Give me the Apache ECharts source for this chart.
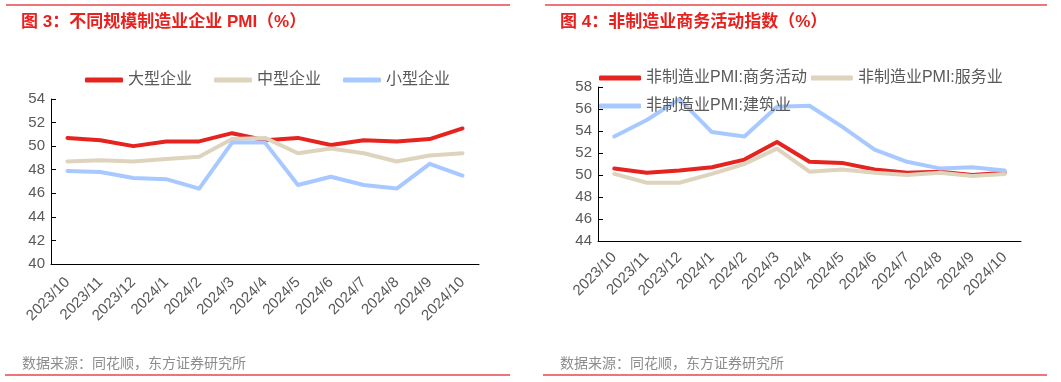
<!DOCTYPE html>
<html>
<head>
<meta charset="utf-8">
<script src="https://cdn.jsdelivr.net/npm/echarts@6/dist/echarts.min.js"></script>
<style>
html,body{margin:0;padding:0;background:#fff;}
#c{width:1061px;height:382px;}
</style>
</head>
<body>
<div id="c"></div>
<script>
// ---- Data ----
const months = ['2023/10','2023/11','2023/12','2024/1','2024/2','2024/3','2024/4','2024/5','2024/6','2024/7','2024/8','2024/9','2024/10'];

// Chart 3: PMI by enterprise size
const largeName = '大型企业';
const mediumName = '中型企业';
const smallName = '小型企业';
const large  = [50.7, 50.5, 50.0, 50.4, 50.4, 51.1, 50.5, 50.7, 50.1, 50.5, 50.4, 50.6, 51.5];
const medium = [48.7, 48.8, 48.7, 48.9, 49.1, 50.6, 50.7, 49.4, 49.8, 49.4, 48.7, 49.2, 49.4];
const small  = [47.9, 47.8, 47.3, 47.2, 46.4, 50.3, 50.3, 46.7, 47.4, 46.7, 46.4, 48.5, 47.5];

// Chart 4: Non-manufacturing business activity
const bizName = '非制造业PMI:商务活动';
const svcName = '非制造业PMI:服务业';
const conName = '非制造业PMI:建筑业';
const business     = [50.6, 50.2, 50.4, 50.7, 51.4, 53.0, 51.2, 51.1, 50.5, 50.2, 50.3, 50.0, 50.2];
const services     = [50.1, 49.3, 49.3, 50.1, 51.0, 52.4, 50.3, 50.5, 50.2, 50.0, 50.2, 49.9, 50.1];
const construction = [53.5, 55.0, 56.9, 53.9, 53.5, 56.2, 56.3, 54.4, 52.3, 51.2, 50.6, 50.7, 50.4];

const yTicksLeft = {min: 40, max: 54, interval: 2};
const yTicksRight = {min: 44, max: 58, interval: 2};

// ---- Styles ----
const FONT = "'Liberation Sans','Noto Sans CJK SC',sans-serif";
const RED = '#E5231F', BEIGE = '#DED4BE', BLUE = '#A8C9FF';
const LABEL = '#595959';
const RULE = '#E8474A';

function xAxis(grid, margin){
  return {
    type: 'category', gridIndex: grid, data: months, boundaryGap: true,
    axisLine: {lineStyle: {color: '#000', width: 1}},
    axisTick: {inside: true, length: 5, lineStyle: {color: '#000'}},
    axisLabel: {rotate: 45, color: LABEL, fontSize: 15, fontFamily: FONT, margin: margin, interval: 0}
  };
}
function yAxis(grid, t){
  return {
    type: 'value', gridIndex: grid, min: t.min, max: t.max, interval: t.interval,
    axisLine: {show: true, lineStyle: {color: '#000', width: 1}},
    axisTick: {show: true, inside: true, length: 5, lineStyle: {color: '#000'}},
    axisLabel: {color: LABEL, fontSize: 15, fontFamily: FONT, margin: 6},
    splitLine: {show: false}
  };
}
function line(name, data, color, idx){
  return {
    name, type: 'line', data, xAxisIndex: idx, yAxisIndex: idx,
    symbol: 'none', smooth: false,
    lineStyle: {color, width: 4, cap: 'round', join: 'round'},
    itemStyle: {color},
    emphasis: {disabled: true}
  };
}

const chart = echarts.init(document.getElementById('c'), null, {renderer: 'canvas'});
chart.setOption({
  backgroundColor: '#fff',
  animation: false,
  title: [
    {text: '图 3：不同规模制造业企业 PMI（%）', left: 16, top: 9,
     textStyle: {color: '#E8201E', fontSize: 17, fontWeight: 'bold', fontFamily: FONT}},
    {text: '图 4：非制造业商务活动指数（%）', left: 555, top: 9,
     textStyle: {color: '#E8201E', fontSize: 17, fontWeight: 'bold', fontFamily: FONT}},
    {text: '数据来源：同花顺，东方证券研究所', left: 17, top: 352,
     textStyle: {color: '#8C8C8C', fontSize: 14, fontWeight: 'normal', fontFamily: FONT}},
    {text: '数据来源：同花顺，东方证券研究所', left: 555, top: 352,
     textStyle: {color: '#8C8C8C', fontSize: 14, fontWeight: 'normal', fontFamily: FONT}}
  ],
  graphic: [
    {type: 'line', shape: {x1: 6, y1: 5, x2: 510, y2: 5}, style: {stroke: RULE, lineWidth: 1.5}},
    {type: 'line', shape: {x1: 545, y1: 5, x2: 1047, y2: 5}, style: {stroke: RULE, lineWidth: 1.5}},
    {type: 'line', shape: {x1: 5, y1: 375, x2: 510, y2: 375}, style: {stroke: RULE, lineWidth: 1.5}},
    {type: 'line', shape: {x1: 543, y1: 375, x2: 1047, y2: 375}, style: {stroke: RULE, lineWidth: 1.5}}
  ],
  legend: [
    {data: [largeName, mediumName, smallName], left: 80, top: 67, itemGap: 22,
     itemWidth: 38, itemHeight: 5, icon: 'roundRect',
     textStyle: {color: LABEL, fontSize: 16, fontFamily: FONT}},
    {data: [bizName, svcName], left: 594, top: 65, itemGap: 4,
     itemWidth: 42, itemHeight: 5, icon: 'roundRect',
     textStyle: {color: LABEL, fontSize: 16, fontFamily: FONT}},
    {data: [conName], left: 594, top: 93, itemGap: 4,
     itemWidth: 42, itemHeight: 5, icon: 'roundRect',
     textStyle: {color: LABEL, fontSize: 16, fontFamily: FONT}}
  ],
  grid: [
    {left: 51, top: 99, width: 428, height: 165, containLabel: false},
    {left: 598, top: 87, width: 423, height: 154, containLabel: false}
  ],
  xAxis: [xAxis(0, 16), xAxis(1, 14)],
  yAxis: [yAxis(0, yTicksLeft), yAxis(1, yTicksRight)],
  series: [
    line(largeName, large, RED, 0),
    line(mediumName, medium, BEIGE, 0),
    line(smallName, small, BLUE, 0),
    line(bizName, business, RED, 1),
    line(svcName, services, BEIGE, 1),
    line(conName, construction, BLUE, 1)
  ]
});
</script>
</body>
</html>
